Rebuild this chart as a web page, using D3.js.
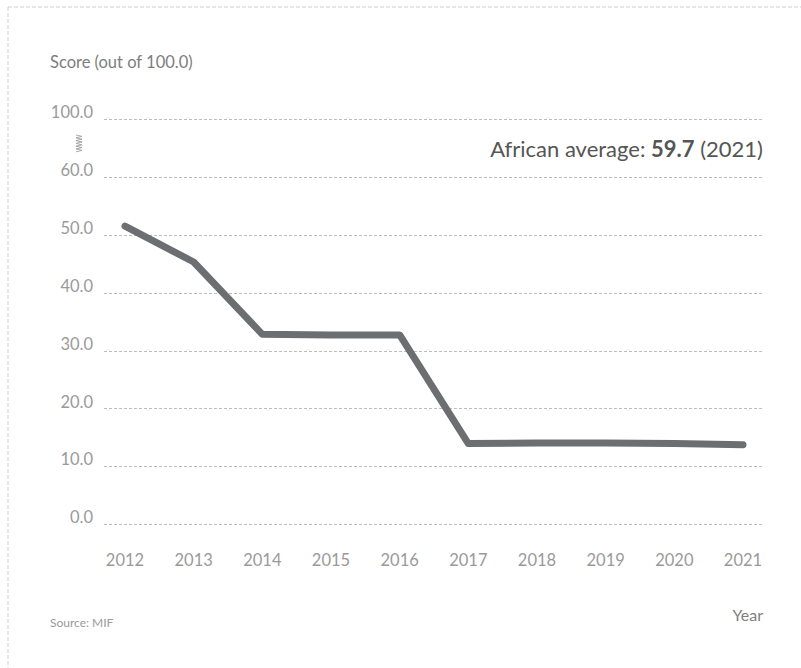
<!doctype html>
<html lang="en">
  <head>
    <meta charset="utf-8">
    <title>Score (out of 100.0)</title>
    <style>
    body { margin: 0; background: #fff; }
    svg text { font-family: Lato, "Open Sans", sans-serif; font-weight: 400; }
    .grid line { stroke: #bdbdbd; stroke-dasharray: 3,2; stroke-width: 1; }
    .tick-label { fill: #9a9a9a; font-size: 16.5px; }
    </style>
    <script src="https://d3js.org/d3.v7.min.js"></script>
  </head>
  <body>
    <svg width="801" height="668"></svg>
    <script>
    // data
    var years = [2012, 2013, 2014, 2015, 2016, 2017, 2018, 2019, 2020, 2021];
    var scores = [51.5, 45.3, 32.8, 32.7, 32.7, 13.9, 14.0, 14.0, 13.9, 13.7];
    var yTicks = [0, 10, 20, 30, 40, 50, 60, 100];
    var averageValue = "59.7";
    var averageYear = "2021";

    var svg = d3.select("svg");

    // dashed frame (top and left only visible)
    svg.append("line").attr("x1", 8).attr("y1", 7).attr("x2", 801).attr("y2", 7)
        .attr("stroke", "#cfcfcf").attr("stroke-dasharray", "4,2");
    svg.append("line").attr("x1", 8).attr("y1", 7).attr("x2", 8).attr("y2", 668)
        .attr("stroke", "#cfcfcf").attr("stroke-dasharray", "4,2");

    var x = d3.scalePoint().domain(years).range([125, 743]);
    // broken axis: 60 -> 100 squeezed into one step
    var y = d3.scaleLinear().domain([0, 60, 100]).range([524, 177, 119]);

    var gridLeft = 104, gridRight = 764;

    var grid = svg.append("g").attr("class", "grid");
    grid.selectAll("line").data(yTicks).enter().append("line")
        .attr("x1", gridLeft).attr("x2", gridRight)
        .attr("y1", function(d) { return Math.round(y(d)) + 0.5; })
        .attr("y2", function(d) { return Math.round(y(d)) + 0.5; });

    svg.append("g").selectAll("text").data(yTicks).enter().append("text")
        .attr("class", "tick-label")
        .attr("x", 93)
        .attr("y", function(d) { return y(d) - 5; })
        .attr("text-anchor", "end")
        .attr("dominant-baseline", "middle")
        .text(function(d) { return d3.format(".1f")(d); });

    svg.append("g").selectAll("text").data(years).enter().append("text")
        .attr("class", "tick-label")
        .attr("x", function(d) { return x(d); })
        .attr("y", 562)
        .attr("text-anchor", "middle")
        .attr("dominant-baseline", "middle")
        .text(function(d) { return d; });

    // axis break zigzag
    var zz = [];
    for (var i = 0; i <= 12; i++) zz.push([i % 2 ? 82 : 76, 135 + i * 1.4]);
    svg.append("path")
        .attr("d", d3.line()(zz))
        .attr("fill", "none")
        .attr("stroke", "#a0a0a0")
        .attr("stroke-width", 0.9);

    // series line
    var line = d3.line()
        .x(function(d, i) { return x(years[i]); })
        .y(function(d) { return y(d); });
    svg.append("path")
        .datum(scores)
        .attr("d", line)
        .attr("fill", "none")
        .attr("stroke", "#6d6e71")
        .attr("stroke-width", 7)
        .attr("stroke-linejoin", "round")
        .attr("stroke-linecap", "round");

    // titles
    svg.append("text").attr("x", 50).attr("y", 68)
        .attr("fill", "#7d7d7d").style("font-size", "16.5px")
        .text("Score (out of 100.0)");

    svg.append("text").attr("x", 50).attr("y", 627)
        .attr("fill", "#9a9a9a").style("font-size", "12px")
        .text("Source: MIF");

    svg.append("text").attr("x", 763).attr("y", 621)
        .attr("text-anchor", "end")
        .attr("fill", "#808080").style("font-size", "16px")
        .text("Year");

    var ann = svg.append("text").attr("x", 763).attr("y", 157)
        .attr("text-anchor", "end")
        .attr("fill", "#555").style("font-size", "22px");
    ann.append("tspan").text("African average: ");
    ann.append("tspan").style("font-weight", "bold").text(averageValue);
    ann.append("tspan").text(" (" + averageYear + ")");
    </script>
  </body>
</html>
